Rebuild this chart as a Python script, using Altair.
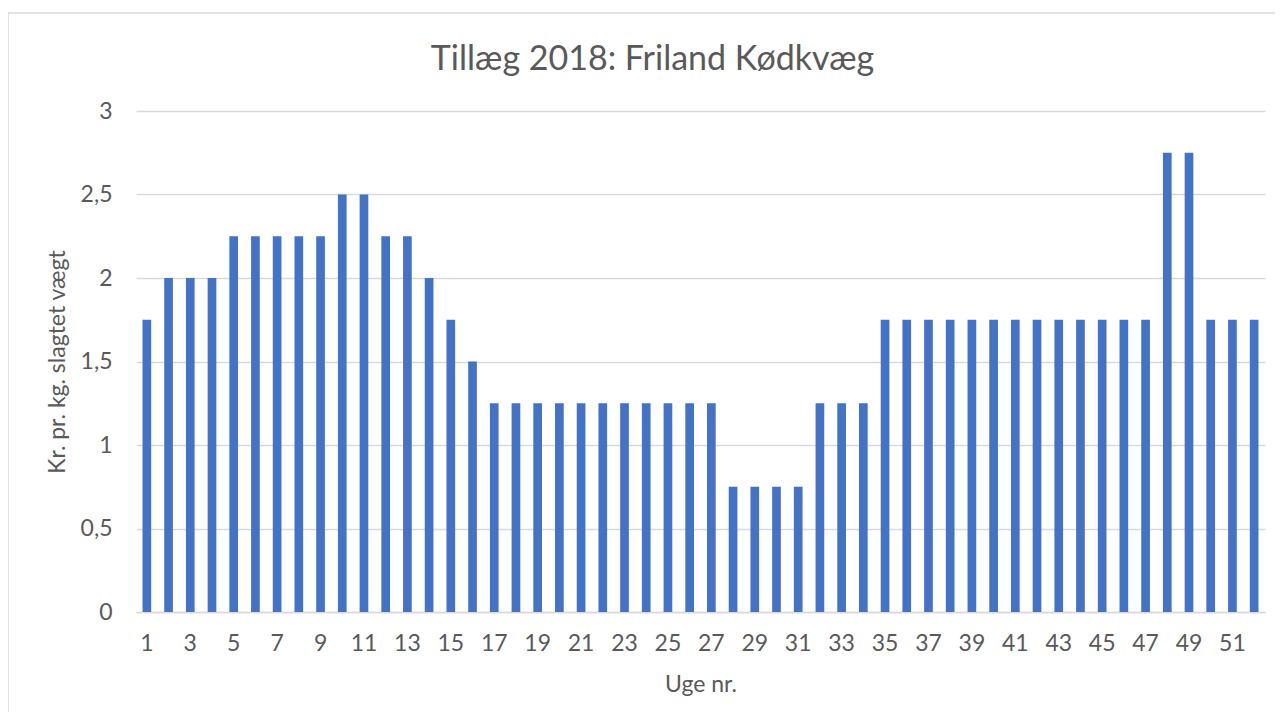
import altair as alt
import pandas as pd

weeks = list(range(1, 53))
values = [1.75, 2, 2, 2, 2.25, 2.25, 2.25, 2.25, 2.25, 2.5,
          2.5, 2.25, 2.25, 2, 1.75, 1.5, 1.25, 1.25, 1.25, 1.25,
          1.25, 1.25, 1.25, 1.25, 1.25, 1.25, 1.25, 0.75, 0.75, 0.75,
          0.75, 1.25, 1.25, 1.25, 1.75, 1.75, 1.75, 1.75, 1.75, 1.75,
          1.75, 1.75, 1.75, 1.75, 1.75, 1.75, 1.75, 2.75, 2.75, 1.75,
          1.75, 1.75]
x_tick_labels = list(range(1, 53, 2))
y_ticks = [0, 0.5, 1, 1.5, 2, 2.5, 3]

df = pd.DataFrame({"uge": weeks, "value": values})

TXT = "#595959"
FONT = "Lato"

bars = alt.Chart(df).mark_bar(color="#4472C4").encode(
    x=alt.X("uge:O",
            scale=alt.Scale(paddingInner=0.6, paddingOuter=0.3),
            axis=alt.Axis(title="Uge nr.", values=x_tick_labels, labelAngle=0,
                          ticks=False, domain=True, domainColor="#d9d9d9",
                          domainWidth=1.5, labelPadding=20, titlePadding=18,
                          labelFontSize=23, titleFontSize=23,
                          labelColor=TXT, titleColor=TXT,
                          labelFont=FONT, titleFont=FONT,
                          titleFontWeight="normal")),
    y=alt.Y("value:Q",
            scale=alt.Scale(domain=[0, 3]),
            axis=alt.Axis(title="Kr. pr. kg. slagtet vægt", values=y_ticks,
                          labelExpr="replace(format(datum.value, '.1~f'), '.', ',')",
                          ticks=False, domain=False, grid=True,
                          gridColor="#d9d9d9", gridWidth=1.3,
                          labelPadding=24, titlePadding=11,
                          labelFontSize=23, titleFontSize=23,
                          labelColor=TXT, titleColor=TXT,
                          labelFont=FONT, titleFont=FONT,
                          titleFontWeight="normal")),
)

border = alt.Chart(pd.DataFrame({"a": [0]})).mark_rect(
    fill=None, stroke="#d9d9d9", strokeWidth=1.5, clip=False
).encode(
    x=alt.value(-128), x2=alt.value(1143),
    y=alt.value(-98), y2=alt.value(640),
)

chart = alt.layer(border, bars).properties(
    width=1129, height=501,
    title=alt.TitleParams("Tillæg 2018: Friland Kødkvæg", fontSize=34,
                          font=FONT, color=TXT, fontWeight="normal",
                          offset=-65, dx=-48, anchor="middle"),
    autosize=alt.AutoSizeParams(type="none"),
    padding={"left": 128, "top": 103, "right": 10, "bottom": 100},
).configure(background="white").configure_view(stroke=None)

chart.save("out.html", embed_options={"renderer": "svg", "actions": False})
